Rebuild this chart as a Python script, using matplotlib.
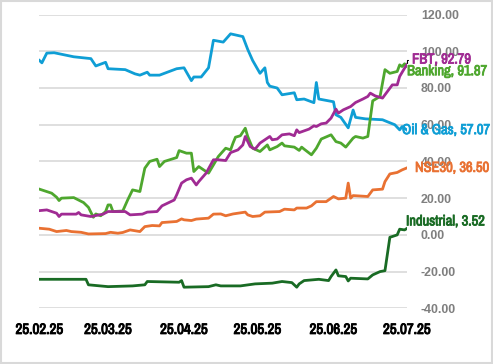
import matplotlib
matplotlib.use("Agg")
import matplotlib.pyplot as plt
import matplotlib.dates as mdates
import matplotlib.patheffects as pe
from matplotlib import font_manager
import pandas as pd

START = pd.Timestamp("2025-02-25")
TICK_DATES = ["2025-02-25", "2025-03-25", "2025-04-25", "2025-05-25", "2025-06-25", "2025-07-25"]
Y_TICKS = [-40, -20, 0, 20, 40, 60, 80, 100, 120]

# day offsets from START
og_days = [0, 1, 3, 6, 14, 21, 23, 27, 28, 35, 39, 41, 44, 45, 49, 56, 59, 62, 63, 66,
           69, 71, 75, 78, 83, 85, 87, 90, 92, 93, 94, 97, 99, 104, 105, 108, 112, 113, 114, 118,
           120, 121, 123, 126, 128, 129, 133, 140, 142, 145, 147, 148, 150]
og_vals = [95.0, 93.7, 99.0, 99.2, 97.0, 96.0, 92.0, 94.0, 90.5, 90.0, 87.7, 87.0, 88.6, 87.0, 87.0, 90.5, 91.0, 84.0, 86.0, 86.0,
           91.0, 106.0, 105.0, 109.5, 108.0, 101.0, 95.0, 88.0, 91.0, 83.0, 81.0, 80.0, 76.3, 77.4, 73.6, 74.0, 72.0, 83.0, 74.0, 73.0,
           72.5, 65.4, 64.0, 58.3, 68.0, 64.0, 63.2, 62.7, 61.6, 60.0, 57.2, 59.0, 57.07]

bk_days = [0, 5, 7, 8, 9, 14, 18, 20, 22, 23, 25, 27, 28, 29, 30, 34, 36, 38, 41, 43,
           45, 48, 49, 51, 56, 57, 60, 62, 63, 65, 69, 71, 73, 76, 78, 79, 80, 82, 84, 85,
           87, 90, 93, 94, 97, 99, 100, 104, 106, 107, 108, 111, 113, 115, 119, 121, 123, 125, 128, 129,
           132, 134, 136, 139, 141, 143, 146, 147, 148, 149, 150]
bk_vals = [24.9, 22.7, 20.5, 18.7, 20.0, 20.3, 17.6, 15.0, 9.6, 11.4, 10.4, 12.7, 16.3, 16.3, 12.7, 13.0, 19.0, 24.5, 23.6, 36.3,
           40.0, 41.2, 37.2, 40.0, 42.1, 45.9, 44.5, 44.5, 34.5, 37.2, 33.6, 38.1, 42.7, 47.2, 46.3, 50.0, 53.2, 54.0, 58.1, 53.6,
           47.2, 45.4, 49.0, 46.3, 48.1, 50.0, 48.5, 47.8, 46.0, 47.8, 46.7, 43.6, 47.2, 52.2, 54.5, 50.8, 50.0, 47.8, 52.7, 53.6,
           52.7, 53.6, 73.0, 75.4, 90.0, 88.0, 89.0, 92.6, 91.7, 93.2, 91.87]

fbt_days = [0, 3, 7, 8, 9, 15, 16, 17, 21, 26, 28, 35, 37, 42, 44, 48, 50, 55, 56, 58,
            60, 62, 64, 65, 68, 71, 73, 76, 78, 81, 83, 84, 86, 88, 90, 92, 94, 95, 97, 99,
            102, 104, 105, 106, 110, 112, 113, 115, 117, 119, 121, 122, 124, 127, 129, 132, 134, 135, 137, 140,
            142, 144, 146, 147, 149, 150]
fbt_vals = [13.2, 13.6, 11.8, 10.0, 11.3, 11.3, 12.2, 10.9, 10.0, 11.3, 12.7, 12.7, 10.9, 11.3, 12.4, 12.7, 15.8, 19.0, 21.8, 28.2,
            30.0, 30.9, 27.2, 29.0, 33.6, 40.9, 40.9, 40.5, 44.8, 46.3, 49.0, 53.6, 48.1, 46.7, 50.0, 51.8, 53.6, 51.8, 52.2, 54.5,
            55.0, 54.0, 57.2, 55.7, 57.6, 59.4, 59.0, 60.5, 60.9, 63.6, 68.5, 66.3, 68.1, 69.9, 72.1, 74.0, 75.4, 77.2, 75.7, 74.5,
            78.1, 81.7, 81.7, 86.3, 90.8, 92.79]

nse_days = [0, 4, 7, 11, 13, 17, 20, 27, 29, 32, 34, 37, 41, 43, 46, 49, 50, 56, 58, 59,
            62, 64, 69, 71, 74, 76, 79, 84, 85, 87, 90, 92, 98, 100, 104, 105, 109, 111, 113, 117,
            120, 122, 125, 126, 127, 128, 134, 136, 140, 141, 143, 146, 148, 150]
nse_vals = [3.6, 3.1, 1.8, 2.4, 1.8, 1.4, 0.5, 0.7, 1.4, 0.9, 1.3, 2.7, 1.8, 4.5, 5.1, 4.9, 6.7, 7.3, 8.7, 8.2,
            7.8, 8.6, 9.1, 11.3, 11.4, 10.4, 11.4, 12.4, 10.9, 10.0, 10.4, 12.4, 12.7, 14.0, 13.6, 14.6, 14.6, 15.8, 18.1, 18.1,
            20.9, 19.6, 20.0, 28.2, 20.0, 21.4, 20.9, 24.5, 24.9, 29.0, 33.2, 34.0, 35.4, 36.5]

ind_days = [0, 19, 20, 28, 38, 43, 44, 57, 58, 59, 69, 72, 74, 82, 88, 95, 99, 103, 105, 106,
            108, 114, 118, 119, 121, 122, 125, 126, 127, 134, 136, 139, 141, 143, 144, 146, 147, 149, 150]
ind_vals = [-24.2, -24.2, -27.2, -28.2, -27.8, -27.2, -25.4, -25.8, -24.9, -28.5, -28.2, -27.2, -27.8, -27.8, -26.7, -26.3, -25.4, -26.0, -28.5, -26.7,
            -24.9, -24.2, -24.9, -22.7, -19.1, -22.3, -22.7, -25.1, -23.6, -24.0, -21.8, -20.0, -19.5, -1.3, -0.9, 0.0, 3.1, 2.7, 3.52]

names = ["Oil & Gas", "Banking", "FBT", "NSE30", "Industrial"]
colors = ["#0F9ED5", "#4EA72E", "#A02B93", "#E97132", "#196B24"]
# label offsets (px) from the last point
label_offsets = [(-5, 0), (0, -5), (5, 5), (8, 0), (-1, 7)]

# narrow font if one is around, else plain Liberation Sans
candidates = ["Liberation Sans Narrow", "Arial Narrow", "Archivo Narrow", "PT Sans Narrow",
              "Roboto Condensed", "Liberation Sans"]
installed = {f.name for f in font_manager.fontManager.ttflist}
lab_font = next(c for c in candidates if c in installed or c == "Liberation Sans")


def to_dates(days):
    return START + pd.to_timedelta(days, unit="D")


def thick(col, w=0.6):
    # fake a heavier weight when the narrow face has no bold
    return [pe.withStroke(linewidth=w, foreground=col)]


series = [(og_days, og_vals), (bk_days, bk_vals), (fbt_days, fbt_vals),
          (nse_days, nse_vals), (ind_days, ind_vals)]

fig = plt.figure(figsize=(4.93, 3.64), dpi=100)
renderer = fig.canvas.get_renderer()


def fit_size(text, family, target_px):
    # font size that makes the bold text about target_px wide
    t = fig.text(0, 0, text, fontsize=10, fontfamily=family, fontweight="bold")
    w = t.get_window_extent(renderer).width
    t.remove()
    return 10 * target_px / w


lab_size = fit_size("Banking, 91.87", lab_font, 80)
xt_size = fit_size("25.02.25", lab_font, 47)
yt_size = fit_size("120.00", "Liberation Sans", 38)

ax = fig.add_axes([0.080, 0.153, 0.7456, 0.807])

for (days, vals), name, col, (dx, dy) in zip(series, names, colors, label_offsets):
    d = to_dates(days)
    ax.plot(d, vals, color=col, lw=2.0, solid_joinstyle="round")
    ax.annotate(f"{name}, {vals[-1]:.2f}", xy=(d[-1], vals[-1]),
                xytext=(dx * 0.72, dy * 0.72), textcoords="offset points",
                ha="left", va="center", color=col, fontsize=lab_size,
                fontfamily=lab_font, fontweight="bold", annotation_clip=False,
                path_effects=thick(col))

# small leader mark next to the FBT label
ax.annotate("", xy=(to_dates([150])[0], fbt_vals[-1] - 0.5), xytext=(2.5, 4),
            textcoords="offset points",
            arrowprops=dict(arrowstyle="-", color="black", lw=0.8,
                            connectionstyle="angle,angleA=0,angleB=90,rad=0"))

ax.set_xlim(START, to_dates([150])[0])
ax.set_ylim(-40, 120)
ax.set_yticks(Y_TICKS)
ax.yaxis.set_major_formatter(plt.FuncFormatter(lambda v, p: f"{v:.2f}"))
ax.yaxis.tick_right()
ax.set_xticks(pd.to_datetime(TICK_DATES))
ax.xaxis.set_major_formatter(mdates.DateFormatter("%d.%m.%y"))
ax.tick_params(axis="y", length=0, pad=10, labelsize=yt_size, labelcolor="#7F7F7F")
ax.tick_params(axis="x", length=0, pad=10.5, labelsize=xt_size, labelcolor="black")
for lab in ax.get_yticklabels():
    lab.set_fontfamily("Liberation Sans")
    lab.set_fontweight("bold")
for lab in ax.get_xticklabels():
    lab.set_fontfamily(lab_font)
    lab.set_fontweight("bold")
    lab.set_path_effects(thick("black", 0.7))

ax.grid(axis="y", color="#D9D9D9", lw=1.2)
ax.set_axisbelow(True)
for s in ax.spines.values():
    s.set_visible(False)

fig.patches.append(plt.Rectangle((0.002, 0.003), 0.996, 0.994, transform=fig.transFigure,
                                 fill=False, edgecolor="#D9D9D9", lw=1.5))

fig.savefig("out.png", dpi=100)
